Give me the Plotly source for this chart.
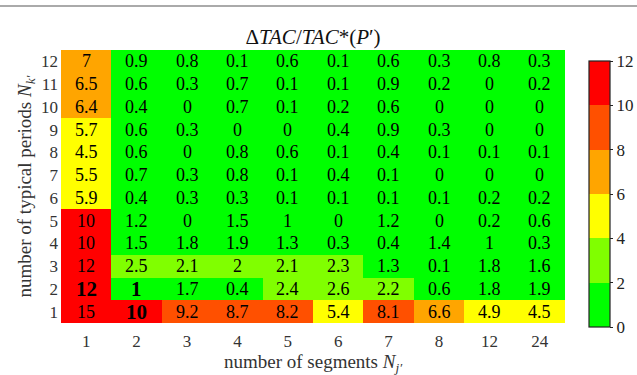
import plotly.graph_objects as go

# Data
segments = ["1", "2", "3", "4", "5", "6", "7", "8", "12", "24"]
periods = ["1", "2", "3", "4", "5", "6", "7", "8", "9", "10", "11", "12"]

row_1 = [15, 10, 9.2, 8.7, 8.2, 5.4, 8.1, 6.6, 4.9, 4.5]
row_2 = [12, 1, 1.7, 0.4, 2.4, 2.6, 2.2, 0.6, 1.8, 1.9]
row_3 = [12, 2.5, 2.1, 2, 2.1, 2.3, 1.3, 0.1, 1.8, 1.6]
row_4 = [10, 1.5, 1.8, 1.9, 1.3, 0.3, 0.4, 1.4, 1, 0.3]
row_5 = [10, 1.2, 0, 1.5, 1, 0, 1.2, 0, 0.2, 0.6]
row_6 = [5.9, 0.4, 0.3, 0.3, 0.1, 0.1, 0.1, 0.1, 0.2, 0.2]
row_7 = [5.5, 0.7, 0.3, 0.8, 0.1, 0.4, 0.1, 0, 0, 0]
row_8 = [4.5, 0.6, 0, 0.8, 0.6, 0.1, 0.4, 0.1, 0.1, 0.1]
row_9 = [5.7, 0.6, 0.3, 0, 0, 0.4, 0.9, 0.3, 0, 0]
row_10 = [6.4, 0.4, 0, 0.7, 0.1, 0.2, 0.6, 0, 0, 0]
row_11 = [6.5, 0.6, 0.3, 0.7, 0.1, 0.1, 0.9, 0.2, 0, 0.2]
row_12 = [7, 0.9, 0.8, 0.1, 0.6, 0.1, 0.6, 0.3, 0.8, 0.3]

values = [row_1, row_2, row_3, row_4, row_5, row_6,
          row_7, row_8, row_9, row_10, row_11, row_12]

# cells shown in bold (row index, column index)
bold_cells = [(1, 0), (1, 1), (0, 1)]

band_colors = ["#00FF00", "#80FF00", "#FFFF00", "#FFA500", "#FF5000", "#FF0000"]
zmin, zmax = 0, 12


def fmt(v):
    s = f"{v:.1f}" if v < 10 else f"{v:.0f}"
    if s.endswith(".0"):
        s = s[:-2]
    return s


# discrete colorscale (boundary values belong to the upper band)
eps = 0.005
cs = []
nb = len(band_colors)
for k, c in enumerate(band_colors):
    lo = 0 if k == 0 else (2 * k - eps) / zmax
    hi = 1 if k == nb - 1 else (2 * (k + 1) - eps) / zmax
    cs.append([lo, c])
    cs.append([hi, c])

FF = "Liberation Serif, Times New Roman, serif"

xi = list(range(len(segments)))
yi = list(range(len(periods)))

annotations = []
for i, row in enumerate(values):
    for j, v in enumerate(row):
        s = fmt(v)
        b = (i, j) in bold_cells
        if b:
            s = f"<b>{s}</b>"
        annotations.append(dict(
            x=xi[j], y=yi[i], xref="x", yref="y",
            text=s, showarrow=False,
            font=dict(family=FF, size=21 if b else 18, color="black"),
        ))

fig = go.Figure(go.Heatmap(
    x=xi, y=yi, z=values,
    zmin=zmin, zmax=zmax, colorscale=cs,
    xgap=0, ygap=0,
    colorbar=dict(
        x=1.028, xanchor="left", thickness=21,
        lenmode="pixels", len=286, y=0.4725, yanchor="middle",
        tickvals=[0, 2, 4, 6, 8, 10, 12],
        tickfont=dict(family=FF, size=17, color="#222"),
        outlinecolor="#222", outlinewidth=1.2,
        ticks="outside", ticklen=3, tickcolor="#222",
    ),
    hoverinfo="skip",
))

fig.update_layout(
    width=637, height=375,
    margin=dict(l=61, r=72, t=50, b=52, autoexpand=False),
    paper_bgcolor="white", plot_bgcolor="white",
    font=dict(family=FF, size=17, color="#222"),
    title=dict(
        text="Δ<i>TAC</i>/<i>TAC</i>*(<i>P</i>′)",
        x=0.5, xref="paper", xanchor="center",
        y=1 - 37 / 375, yanchor="middle",
        font=dict(family=FF, size=21, color="#111"),
    ),
    xaxis=dict(
        tickmode="array", tickvals=xi, ticktext=segments,
        range=[-0.5, len(segments) - 0.5],
        ticklabelstandoff=6, automargin=False,
        title=dict(
            text="number of segments <i>N</i><sub><i>j′</i></sub>",
            font=dict(family=FF, size=19, color="#333"), standoff=7),
        tickfont=dict(family=FF, size=17, color="#333"),
        ticks="", showgrid=False, zeroline=False,
    ),
    yaxis=dict(
        tickmode="array", tickvals=yi, ticktext=periods,
        range=[-0.5, len(periods) - 0.5],
        ticklabelstandoff=2, automargin=False,
        title=dict(
            text="number of typical periods <i>N</i><sub><i>k′</i></sub>",
            font=dict(family=FF, size=19, color="#333"), standoff=4),
        tickfont=dict(family=FF, size=17, color="#333"),
        ticks="", showgrid=False, zeroline=False,
    ),
    annotations=annotations,
    shapes=[dict(
        type="line", xref="paper", yref="paper",
        x0=-61 / 504, x1=(637 - 61) / 504,
        y0=(323 - 6) / 273, y1=(323 - 6) / 273,
        line=dict(color="#aaaaaa", width=2),
    )],
)

fig.write_html("out.html")
